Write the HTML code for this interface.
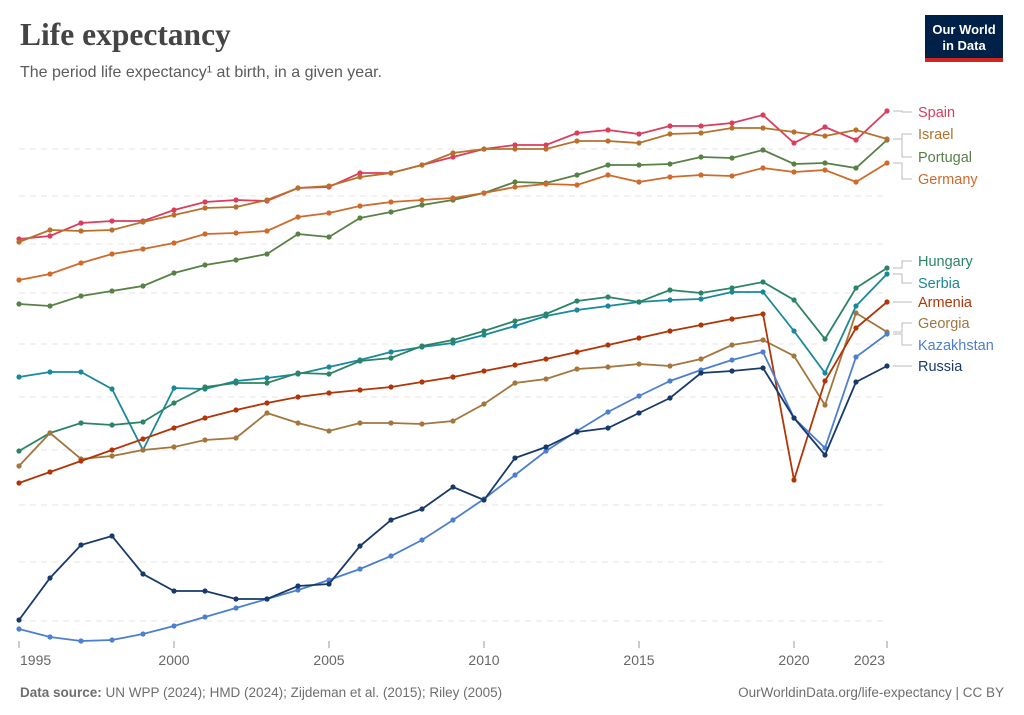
<!DOCTYPE html>
<html><head><meta charset="utf-8"><style>
body{margin:0;width:1024px;height:715px;background:#fff;overflow:hidden;font-family:"Liberation Sans",sans-serif;}
.t{position:absolute;left:20px;top:17px;font-family:"Liberation Serif",serif;font-weight:bold;font-size:31.5px;color:#444;}
.s{position:absolute;left:20px;top:64px;font-size:16px;color:#5b5b5b;}
.logo{position:absolute;left:925px;top:15px;width:78px;height:47px;background:#002147;border-bottom:4px solid #ce261e;color:#fff;font-size:13px;font-weight:bold;text-align:center;line-height:16px;padding-top:7px;box-sizing:border-box;}
.f{position:absolute;top:685px;font-size:13.5px;color:#6e6e6e;}
</style></head><body>
<div class="t">Life expectancy</div>
<div class="s">The period life expectancy¹ at birth, in a given year.</div>
<div class="logo">Our World<br>in Data</div>
<svg id="c" width="1024" height="715" style="position:absolute;left:0;top:0">
<g font-size="14.5" font-family="Liberation Sans,sans-serif">
<text x="918" y="117" fill="#dc3d5e">Spain</text>
<text x="918" y="139" fill="#b7712a">Israel</text>
<text x="918" y="162" fill="#578145">Portugal</text>
<text x="918" y="184" fill="#cf6a2a">Germany</text>
<text x="918" y="266" fill="#2c8465">Hungary</text>
<text x="918" y="288" fill="#18899b">Serbia</text>
<text x="918" y="307" fill="#b13507">Armenia</text>
<text x="918" y="328" fill="#a2763d">Georgia</text>
<text x="918" y="350" fill="#4c7fd0">Kazakhstan</text>
<text x="918" y="371" fill="#173a6a">Russia</text>
</g>
<g font-size="14" fill="#666" font-family="Liberation Sans,sans-serif">
<text x="20" y="665">1995</text>
<text x="174" y="665" text-anchor="middle">2000</text>
<text x="329" y="665" text-anchor="middle">2005</text>
<text x="484" y="665" text-anchor="middle">2010</text>
<text x="639" y="665" text-anchor="middle">2015</text>
<text x="794" y="665" text-anchor="middle">2020</text>
<text x="885" y="665" text-anchor="end">2023</text>
</g>
</svg>
<div class="f" style="left:20px"><b>Data source:</b> UN WPP (2024); HMD (2024); Zijdeman et al. (2015); Riley (2005)</div>
<div class="f" style="right:20px">OurWorldinData.org/life-expectancy | CC BY</div>
<script>
var s=document.getElementById('c'),h='';
[149,196,244,293,344,397,450,505,562,621].forEach(function(y){h+='<line x1="19" x2="887" y1="'+y+'" y2="'+y+'" stroke="#e4e4e4" stroke-dasharray="6,5"/>';});
[19,174,329,484,639,794,887].forEach(function(x){h+='<line x1="'+x+'" x2="'+x+'" y1="641" y2="648" stroke="#999"/>';});
var D=[
['#18899b',[377,372,372,389,450,388,389,381,378,374,367,360,352,347,343,335,326,316,310,306,302,300,299,292,292,331,373,306,274]],
['#2c8465',[451,433,423,425,422,403,387,383,383,373,374,361,358,346,340,331,321,314,301,297,302,290,293,288,282,300,339,288,268]],
['#a2763d',[466,433,459,456,450,447,440,438,413,423,431,423,423,424,421,404,383,379,369,367,364,366,359,345,340,356,405,313,332]],
['#b13507',[483,472,461,450,439,428,418,410,403,397,393,390,387,382,377,371,365,359,352,345,338,331,325,319,314,480,381,328,302]],
['#4c7fd0',[629,637,641,640,634,626,617,608,599,590,580,569,556,540,520,499,475,451,431,412,396,381,370,360,352,418,448,357,334]],
['#173a6a',[620,578,545,536,574,591,591,599,599,586,584,546,520,509,487,500,458,447,432,428,413,398,373,371,368,418,455,382,366]],
['#578145',[304,306,296,291,286,273,265,260,254,234,237,218,212,205,200,193,182,183,175,165,165,164,157,158,150,164,163,168,140]],
['#cf6a2a',[280,274,263,254,249,243,234,233,231,217,213,206,202,200,198,193,187,184,185,175,182,177,175,176,168,172,170,182,163]],
['#dc3d5e',[239,236,223,221,221,210,202,200,201,188,187,173,173,165,157,149,145,145,133,130,134,126,126,123,115,143,127,140,111]],
['#b7712a',[242,230,231,230,222,215,208,207,200,188,186,177,173,165,153,149,149,149,141,141,143,134,133,128,128,132,136,130,139]]];
D.forEach(function(d){var p=[],dots='';d[1].forEach(function(y,i){var x=19+i*31;p.push(x+','+y);dots+='<circle cx="'+x+'" cy="'+y+'" r="2.6" fill="'+d[0]+'"/>';});
h+='<polyline points="'+p.join(' ')+'" fill="none" stroke="'+d[0]+'" stroke-width="1.8"/>'+dots;});
var L=[[111,112],[139,134],[139,157],[163,179],[268,261],[274,283],[302,302],[332,323],[334,345],[366,366]];
L.forEach(function(l){h+='<path d="M893 '+l[0]+' H902 V'+l[1]+' H912" fill="none" stroke="#bbb" stroke-width="1"/>';});
s.insertAdjacentHTML('afterbegin',h);
</script>
</body></html>
